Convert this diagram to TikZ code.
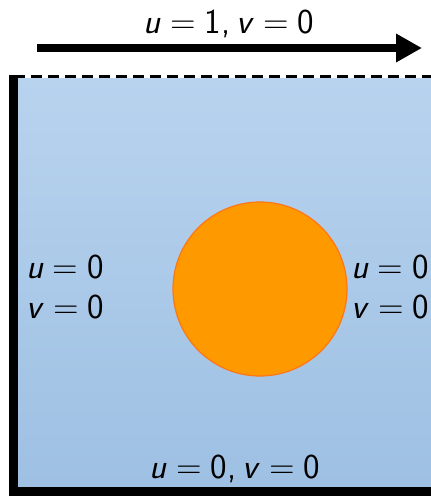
\documentclass[tikz,border=0pt]{standalone}
\usetikzlibrary{arrows.meta}
\definecolor{bluetop}{RGB}{184,211,238}
\definecolor{bluebot}{RGB}{158,192,227}
\definecolor{disk}{RGB}{255,153,0}
\definecolor{diskedge}{RGB}{255,118,20}
\newcommand{\vu}{\textit{u}}
\newcommand{\vv}{\textit{v}}
\newcommand{\eqs}{\hspace{.26em}=\hspace{.26em}}
\begin{document}
\begin{tikzpicture}[x=1pt,y=-1pt,
  lbl/.style={inner sep=0pt,font=\fontsize{35}{42}\selectfont\sffamily},
  wall/.style={line width=9pt},
  lid/.style={line width=3.5pt,dash pattern=on 11pt off 6pt}]
\useasboundingbox (0,0) rectangle (431,496);
% domain fill
\shade[top color=bluetop,bottom color=bluebot] (18,78) rectangle (440,487);
% walls
\coordinate (tl) at (13.5,75);
\coordinate (bl) at (13.5,491);
\coordinate (br) at (445,491);
\coordinate (tr) at (440,76.5);
\coordinate (tlid) at (14,76.5);
\draw[wall] (tl) -- (bl);
\draw[wall] (9,491) -- (br);
\draw[lid] (tlid) -- (tr);
% obstacle
\node[circle,draw=diskedge,line width=1.2pt,fill=disk,minimum size=174pt,inner sep=0pt] (obst) at (260,289) {};
% lid velocity arrow
\coordinate (arrS) at (37,48);
\coordinate (arrE) at (422,48);
\draw[line width=8pt,-{Triangle[length=26pt,width=27pt]}] (arrS) -- (arrE);
% labels
\node[lbl,anchor=base] (ltop) at (229,33) {\vu\eqs 1,\hspace{.17em}\vv\eqs 0};
\node[lbl,anchor=base west] (lleftu) at (26,278) {\vu\eqs 0};
\node[lbl,anchor=base west] (lleftv) at (26,318) {\vv\eqs 0};
\node[lbl,anchor=base west] (lrightu) at (351,278) {\vu\eqs 0};
\node[lbl,anchor=base west] (lrightv) at (351,318) {\vv\eqs 0};
\node[lbl,anchor=base] (lbot) at (235,478) {\vu\eqs 0,\hspace{.17em}\vv\eqs 0};
\end{tikzpicture}
\end{document}
